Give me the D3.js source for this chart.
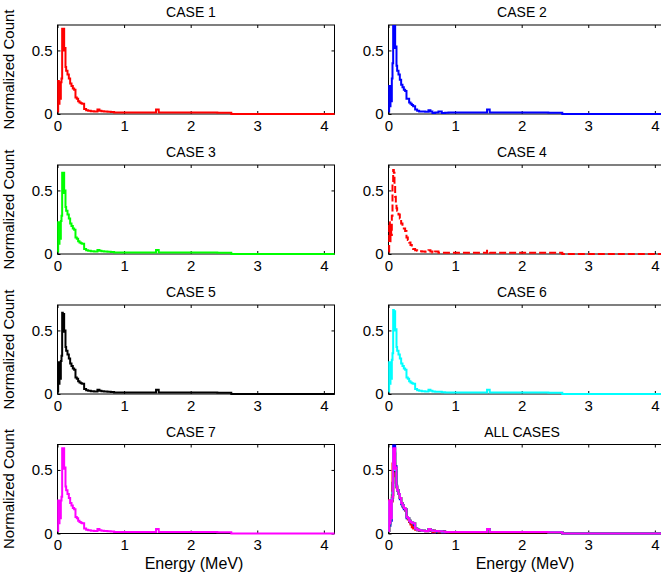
<!DOCTYPE html>
<html>
<head>
<meta charset="utf-8">
<script src="https://cdn.jsdelivr.net/npm/d3@7"></script>
<style>
  body { margin: 0; background: #fff; }
  svg { display: block; font-family: "Liberation Sans", Arial, sans-serif; }
</style>
</head>
<body>
<div id="chart"></div>
<script>
// bin edges (MeV), shared by all the cases
var energy = [0, 0.01, 0.02, 0.03, 0.04, 0.05, 0.06, 0.07, 0.08, 0.09,
  0.10, 0.11, 0.12, 0.13, 0.15, 0.17, 0.19, 0.21, 0.23, 0.25,
  0.27, 0.29, 0.31, 0.33, 0.35, 0.37, 0.40, 0.43, 0.46, 0.50,
  0.55, 0.60, 0.63, 0.66, 0.70, 0.75, 0.80, 0.85, 0.90, 1.00,
  1.20, 1.40, 1.48, 1.52, 1.60, 1.80, 2.00, 2.20, 2.40, 2.61, 4.20];

var case1 = [0.02, 0.26, 0.08, 0.24, 0.12, 0.25, 0.28, 0.67, 0.66, 0.67,
  0.50, 0.52, 0.37, 0.34, 0.31, 0.28, 0.24, 0.22, 0.20, 0.19,
  0.13, 0.12, 0.10, 0.09, 0.085, 0.08, 0.04, 0.03, 0.025, 0.022,
  0.02, 0.035, 0.026, 0.022, 0.02, 0.018, 0.015, 0.012, 0.012, 0.012,
  0.012, 0.012, 0.035, 0.012, 0.012, 0.011, 0.011, 0.011, 0.01, 0, 0];
var case2 = [0.02, 0.22, 0.06, 0.20, 0.10, 0.28, 0.40, 0.76, 0.75, 0.72,
  0.52, 0.53, 0.38, 0.34, 0.31, 0.27, 0.23, 0.21, 0.19, 0.18,
  0.12, 0.12, 0.09, 0.08, 0.07, 0.06, 0.035, 0.025, 0.02, 0.02,
  0.018, 0.03, 0.02, 0.008, 0.012, 0.02, 0.008, 0.01, 0.012, 0.012,
  0.012, 0.012, 0.035, 0.012, 0.012, 0.011, 0.011, 0.011, 0.01, 0, 0];
var case3 = [0.02, 0.25, 0.08, 0.24, 0.12, 0.26, 0.30, 0.64, 0.63, 0.64,
  0.48, 0.50, 0.37, 0.34, 0.31, 0.28, 0.24, 0.22, 0.20, 0.19,
  0.13, 0.12, 0.10, 0.09, 0.085, 0.08, 0.04, 0.03, 0.025, 0.022,
  0.02, 0.032, 0.025, 0.022, 0.02, 0.018, 0.015, 0.012, 0.012, 0.012,
  0.012, 0.012, 0.032, 0.012, 0.012, 0.011, 0.011, 0.011, 0.01, 0, 0];
var case4 = [0.02, 0.25, 0.10, 0.22, 0.15, 0.30, 0.55, 0.66, 0.64, 0.55,
  0.45, 0.40, 0.36, 0.34, 0.31, 0.28, 0.24, 0.22, 0.20, 0.18,
  0.13, 0.11, 0.09, 0.07, 0.05, 0.04, 0.03, 0.025, 0.022, 0.02,
  0.018, 0.03, 0.02, 0.01, 0.02, 0.01, 0.01, 0.01, 0.01, 0.01,
  0.01, 0.01, 0.025, 0.01, 0.01, 0.01, 0.01, 0.01, 0.01, 0, 0];
var case5 = [0.02, 0.25, 0.08, 0.25, 0.12, 0.26, 0.30, 0.64, 0.62, 0.63,
  0.49, 0.50, 0.37, 0.34, 0.31, 0.28, 0.24, 0.22, 0.20, 0.19,
  0.13, 0.12, 0.10, 0.09, 0.085, 0.08, 0.04, 0.03, 0.025, 0.022,
  0.02, 0.033, 0.025, 0.022, 0.02, 0.018, 0.015, 0.012, 0.012, 0.012,
  0.012, 0.012, 0.033, 0.012, 0.012, 0.011, 0.011, 0.011, 0.01, 0, 0];
var case6 = [0.02, 0.25, 0.08, 0.24, 0.12, 0.27, 0.32, 0.66, 0.65, 0.65,
  0.50, 0.51, 0.37, 0.34, 0.31, 0.28, 0.24, 0.22, 0.20, 0.19,
  0.13, 0.12, 0.10, 0.09, 0.085, 0.08, 0.04, 0.03, 0.025, 0.022,
  0.02, 0.033, 0.025, 0.02, 0.018, 0.018, 0.013, 0.012, 0.012, 0.012,
  0.012, 0.012, 0.033, 0.012, 0.012, 0.011, 0.011, 0.011, 0.01, 0, 0];
var case7 = [0.02, 0.26, 0.08, 0.25, 0.12, 0.26, 0.29, 0.67, 0.66, 0.67,
  0.51, 0.52, 0.37, 0.34, 0.31, 0.28, 0.24, 0.22, 0.20, 0.19,
  0.13, 0.12, 0.10, 0.09, 0.085, 0.08, 0.04, 0.03, 0.025, 0.022,
  0.02, 0.035, 0.026, 0.022, 0.02, 0.018, 0.015, 0.012, 0.012, 0.012,
  0.012, 0.012, 0.035, 0.012, 0.012, 0.011, 0.011, 0.011, 0.01, 0, 0];

var xTicks = [0, 1, 2, 3, 4];
var yTicks = [0, 0.5];

var cases = [
  {name: "CASE 1", values: case1, color: "#ff0000", dash: null},
  {name: "CASE 2", values: case2, color: "#0000ff", dash: null},
  {name: "CASE 3", values: case3, color: "#00ff00", dash: null},
  {name: "CASE 4", values: case4, color: "#ff0000", dash: "7,3"},
  {name: "CASE 5", values: case5, color: "#000000", dash: null},
  {name: "CASE 6", values: case6, color: "#00ffff", dash: null},
  {name: "CASE 7", values: case7, color: "#ff00ff", dash: null}
];

// panels: 7 single cases then the overlay of all of them
var panels = cases.map(function(c){ return {title: c.name, series: [c]}; });
panels.push({title: "ALL CASES", series: cases.map(function(c){ return {values: c.values, color: c.color, dash: null}; })});

var W = 661, H = 579;
var axW = 277, axH = 89;
var colX = [57.5, 388.5];
var rowY = [25, 165, 305, 444.5];

var svg = d3.select("#chart").append("svg")
  .attr("width", W)
  .attr("height", H);

var x = d3.scaleLinear().domain([0, 4.16]).range([0, axW]);
var y = d3.scaleLinear().domain([0, 0.7]).range([axH, 0]);

var line = d3.line()
  .x(function(d){ return x(d[0]); })
  .y(function(d){ return y(d[1]); })
  .curve(d3.curveStepAfter);

panels.forEach(function(p, i) {
  var col = i % 2, row = Math.floor(i / 2);
  var g = svg.append("g")
    .attr("transform", "translate(" + colX[col] + "," + rowY[row] + ")");

  g.append("clipPath").attr("id", "clip" + i)
    .append("rect").attr("x", -1).attr("y", 0).attr("width", axW + 1).attr("height", axH + 1.5);

  // title
  g.append("text")
    .attr("x", axW / 2 - 5)
    .attr("y", -8)
    .attr("text-anchor", "middle")
    .style("font-size", "14px")
    .text(p.title);

  // y label, left column only
  if (col == 0) {
    g.append("text")
      .attr("transform", "translate(" + (-43.5) + "," + (axH / 2) + ") rotate(-90)")
      .attr("text-anchor", "middle")
      .style("font-size", "15px")
      .text("Normalized Count");
  }

  // x label on the bottom row only
  if (row == 3) {
    g.append("text")
      .attr("x", axW / 2 - 2)
      .attr("y", axH + 35)
      .attr("text-anchor", "middle")
      .style("font-size", "16px")
      .text("Energy (MeV)");
  }

  // axes, ticks pointing in, on all four sides like matlab box on
  var fmt = function(d){ return d3.format("")(d); };
  g.append("g").attr("class", "ax")
    .attr("transform", "translate(0," + axH + ")")
    .call(d3.axisBottom(x).tickValues(xTicks).tickSizeInner(-3).tickSizeOuter(0).tickPadding(6).tickFormat(fmt));
  g.append("g").attr("class", "ax")
    .call(d3.axisTop(x).tickValues(xTicks).tickSizeInner(-3).tickSizeOuter(0).tickFormat(""));
  g.append("g").attr("class", "ax")
    .call(d3.axisLeft(y).tickValues(yTicks).tickSizeInner(-3).tickSizeOuter(0).tickPadding(5).tickFormat(fmt));
  g.append("g").attr("class", "ax")
    .attr("transform", "translate(" + axW + ",0)")
    .call(d3.axisRight(y).tickValues(yTicks).tickSizeInner(-3).tickSizeOuter(0).tickFormat(""));

  g.selectAll(".ax .domain").remove();
  g.selectAll(".ax text").style("font-size", "15px").style("font-family", "Liberation Sans, Arial, sans-serif").attr("fill", "#000");
  g.selectAll(".ax line").attr("stroke", "#000");

  g.append("rect")
    .attr("x", 0).attr("y", 0)
    .attr("width", axW).attr("height", axH)
    .attr("fill", "none")
    .attr("stroke", "#000")
    .attr("stroke-width", 1);

  // spectra
  p.series.forEach(function(s) {
    var pts = energy.map(function(e, k){ return [e, s.values[k]]; });
    g.append("path")
      .attr("clip-path", "url(#clip" + i + ")")
      .attr("d", line(pts))
      .attr("fill", "none")
      .attr("stroke", s.color)
      .attr("stroke-width", 2)
      .attr("stroke-dasharray", s.dash);
  });
});
</script>
</body>
</html>
